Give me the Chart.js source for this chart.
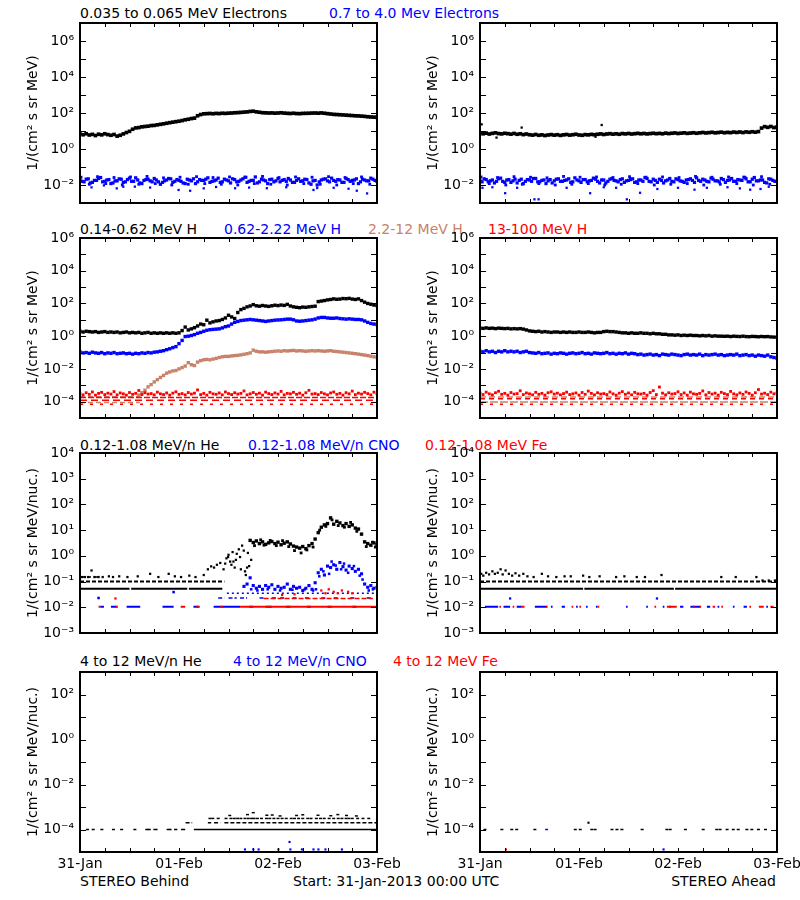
<!DOCTYPE html>
<html><head><meta charset="utf-8">
<script src="https://cdn.jsdelivr.net/npm/chart.js@4.4.1/dist/chart.umd.min.js"></script>
<style>
html,body{margin:0;padding:0;background:#fff;}
#wrap{position:relative;width:800px;height:900px;overflow:hidden;background:#fff;font-family:'DejaVu Sans',sans-serif;font-size:14px;}
canvas{position:absolute;}
.t{position:absolute;white-space:nowrap;line-height:16px;font-size:14px;}
</style></head><body><div id="wrap">
<div class="t" style="left:80px;top:5px;color:#000">0.035 to 0.065 MeV Electrons</div>
<div class="t" style="left:329px;top:5px;color:#0000ff">0.7 to 4.0 Mev Electrons</div>
<div class="t" style="left:80px;top:221px;color:#000">0.14-0.62 MeV H</div>
<div class="t" style="left:224px;top:221px;color:#0000ff">0.62-2.22 MeV H</div>
<div class="t" style="left:368px;top:221px;color:#c8826a">2.2-12 MeV H</div>
<div class="t" style="left:488px;top:221px;color:#ff0000">13-100 MeV H</div>
<div class="t" style="left:80px;top:437px;color:#000">0.12-1.08 MeV/n He</div>
<div class="t" style="left:248px;top:437px;color:#0000ff">0.12-1.08 MeV/n CNO</div>
<div class="t" style="left:425px;top:437px;color:#ff0000">0.12-1.08 MeV Fe</div>
<div class="t" style="left:80px;top:653px;color:#000">4 to 12 MeV/n He</div>
<div class="t" style="left:233px;top:653px;color:#0000ff">4 to 12 MeV/n CNO</div>
<div class="t" style="left:393px;top:653px;color:#ff0000">4 to 12 MeV Fe</div>
<div class="t" style="left:80px;top:873px;color:#000">STEREO Behind</div>
<div class="t" style="left:293px;top:873px;color:#000">Start: 31-Jan-2013 00:00 UTC</div>
<div class="t" style="right:24px;top:873px;color:#000">STEREO Ahead</div>
</div>
<script>
// ---------- axes / ticks ----------
const sixHourTicks = [0,6,12,18,24,30,36,42,48,54,60,66,72];
const dayTicks = [0,24,48,72];
const dayText = ['31-Jan','01-Feb','02-Feb','03-Feb'];

const decElec = [1e-3,1e-2,1e-1,1e0,1e1,1e2,1e3,1e4,1e5,1e6,1e7];
const labElecV = [1e-2,1e0,1e2,1e4,1e6];
const labElecT = ['10⁻²','10⁰','10²','10⁴','10⁶'];

const decProt = [1e-5,1e-4,1e-3,1e-2,1e-1,1e0,1e1,1e2,1e3,1e4,1e5,1e6];
const labProtV = [1e-4,1e-2,1e0,1e2,1e4,1e6];
const labProtT = ['10⁻⁴','10⁻²','10⁰','10²','10⁴','10⁶'];

const decSupra = [1e-3,1e-2,1e-1,1e0,1e1,1e2,1e3,1e4];
const labSupraV = [1e-3,1e-2,1e-1,1e0,1e1,1e2,1e3,1e4];
const labSupraT = ['10⁻³','10⁻²','10⁻¹','10⁰','10¹','10²','10³','10⁴'];

const decHigh = [1e-5,1e-4,1e-3,1e-2,1e-1,1e0,1e1,1e2,1e3];
const labHighV = [1e-4,1e-2,1e0,1e2];
const labHighT = ['10⁻⁴','10⁻²','10⁰','10²'];

// ---------- data (hours since 31-Jan 00:00) ----------
const STEP = 0.75;   // cadence of dense series
const NSTEP = 1;     // cadence of noisy electron layers
const WSTEP = 2;     // cadence of the outer noisy layer

// STEREO Behind electrons
const eLoB = [6.8,6.2,7.0,6.0,6.5,5.6,6.6,6.1,7.0,6.3,
5.8,6.4,5.2,5.8,6.9,8.2,9.6,12.5,14.8,15.5,
17.0,17.8,18.5,20.0,20.5,22,23.5,25,27,29,
31,33,35,38,42,45,49,52,70,82,
90,92,94,91,95,93,97,95,98,100,
103,105,108,112,115,122,126,116,110,104,
102,100,101,98,100,103,99,96,94,97,
93,92,95,96,97,99,100,98,101,97,
92,88,84,82,80,78,76,74,72,70,
69,67,65,62,60,59,57];
const eHiB1 = [.019,.015,.022,.014,.018,.026,.016,.020,.013,.017,
.021,.015,.024,.016,.019,.012,.020,.017,.023,.015,
.014,.019,.022,.016,.018,.013,.021,.017,.012,.020,
.018,.025,.016,.019,.014,.021,.017,.022,.015,.019,
.027,.016,.018,.013,.021,.017,.020,.015,.023,.018,
.016,.019,.014,.022,.017,.020,.011,.018,.015,.021,
.017,.024,.016,.019,.014,.020,.018,.022,.015,.019,
.017,.021,.016];
const eHiB2 = [.016,.021,.013,.018,.023,.015,.019,.012,.017,.022,
.014,.020,.016,.025,.013,.018,.021,.015,.019,.011,
.017,.023,.014,.020,.016,.012,.019,.022,.015,.018,
.021,.014,.017,.024,.015,.019,.013,.020,.016,.022,
.014,.018,.028,.015,.019,.012,.021,.017,.015,.020,
.023,.014,.018,.016,.021,.013,.017,.010,.019,.022,
.015,.018,.020,.014,.023,.016,.019,.012,.021,.017,
.024,.018];
const eHiB3 = [.027,.011,.029,.012,.026,.010,.028,.011,.030,.012,.025,.010,.027,.011,.029,.012,.026,.011,
.028,.010,.027,.012,.030,.011,.026,.010,.028,.012,.027,.011,.029,.010,.026,.012,.028,.011];
const eOutBt = [2.8,5.8,8.9,10.5,13.3,17,23.9,26.7,30,33,37.6,41,45.3,50,56.6,57.5,61.5,65.1,67.1,69.6];
const eOutBv = [.0074,.0095,.0065,.008,.0081,.0072,.0053,.0048,.0065,.0078,.0066,.0072,.0066,.0075,.0053,.0068,.007,.0062,.0048,.0034];

// STEREO Ahead electrons
const eLoA = [7.8,7.0,7.6,6.8,7.4,7.9,7.2,6.9,7.5,7.1,
6.7,7.3,6.6,7.0,6.3,6.8,6.2,5.9,6.4,5.8,
6.1,5.6,6.0,6.3,5.9,6.2,5.7,6.1,6.4,5.9,
6.2,6.6,6.0,5.8,6.3,6.1,6.5,6.2,6.6,6.9,
6.4,6.8,7.1,6.7,7.0,6.6,7.2,6.9,7.3,6.8,
7.1,7.4,7.0,7.3,6.9,7.2,7.5,7.1,7.4,7.0,
7.6,7.2,7.5,7.8,7.3,7.6,7.9,7.4,7.7,8.0,
7.5,7.9,8.3,7.8,8.1,8.5,7.9,8.2,8.6,8.0,
8.4,8.1,8.7,8.3,8.8,8.2,8.9,8.5,9.1,8.6,
9.3,14.5,17.5,16.0,17.8,15.5,16.5];
const eLoAOt = [0.4,4.0,10.1,28.0,29.5];
const eLoAOv = [23.5,4.3,15.5,4.8,21.5];
const eHiA1 = [.018,.022,.015,.019,.016,.024,.014,.020,.017,.013,
.021,.016,.019,.023,.015,.018,.012,.020,.017,.022,
.016,.019,.014,.025,.017,.020,.015,.018,.021,.013,
.019,.016,.023,.017,.020,.014,.018,.022,.015,.019,
.026,.016,.021,.014,.018,.017,.023,.015,.020,.016,
.019,.022,.014,.018,.021,.016,.024,.017,.015,.020,
.018,.023,.016,.019,.027,.015,.021,.017,.019,.014,
.022,.018,.016];
const eHiA2 = [.015,.020,.017,.013,.022,.016,.019,.014,.021,.018,
.012,.020,.016,.023,.015,.019,.017,.013,.021,.016,
.018,.022,.015,.019,.014,.020,.017,.024,.016,.019,
.013,.021,.018,.015,.022,.017,.020,.014,.019,.016,
.023,.015,.018,.021,.013,.019,.016,.022,.017,.014,
.020,.018,.025,.016,.019,.015,.021,.017,.023,.014,
.019,.016,.020,.018,.022,.015,.026,.017,.019,.013,
.021,.016];
const eHiA3 = [.028,.012,.026,.010,.029,.011,.027,.012,.025,.010,.030,.011,.027,.012,.028,.010,.026,.011,
.029,.012,.027,.010,.028,.011,.026,.012,.030,.010,.027,.011,.028,.012,.026,.010,.029,.011];
const eOutAt = [0.6,3,6.1,9,13.2,14.2,21,26.7,30,33,35.6,38.8,43,48,52,55,60,63,65.5,68,70];
const eOutAv = [.007,.0075,.0035,.007,.0016,.0016,.007,.0035,.0075,.007,.0016,.0037,.006,.007,.0055,.007,.0075,.0065,.0055,.006,.008];

// STEREO Behind protons
const pLoB = [2.0,1.8,2.0,1.9,1.8,1.9,1.7,1.8,1.9,1.7,
1.8,1.7,1.8,1.6,1.7,1.8,1.6,1.7,1.6,1.7,
1.5,1.6,1.7,1.5,1.6,1.5,1.6,1.5,1.6,1.5,
1.6,1.5,1.6,2.2,3.6,2.4,2.8,3.3,4.2,5.5,
5.0,9.5,6.5,7.5,8.5,9.0,10.5,13,19,15,
12,28,42,50,62,70,85,72,68,75,
70,66,72,78,74,80,76,88,70,62,
58,55,60,58,62,65,68,130,140,150,
165,175,190,180,185,200,195,205,185,175,
190,150,120,100,90,80,74];
const pMidB = [0.11,0.095,0.10,0.09,0.105,0.095,0.09,0.10,0.085,0.095,
0.09,0.10,0.085,0.09,0.095,0.085,0.09,0.08,0.09,0.085,
0.095,0.09,0.10,0.095,0.105,0.11,0.12,0.13,0.15,0.17,
0.20,0.23,0.35,0.55,0.95,1.0,1.1,1.25,1.5,1.7,
2.0,2.3,2.5,2.6,2.7,2.8,3.2,3.8,4.2,5.5,
7.0,8.0,9.0,9.5,10,10.5,10,9.5,9.0,8.5,
8.0,8.5,9.0,9.5,9.8,10,10.5,11,11,10,
8.5,8.2,8.5,9.0,9.5,10,11,13,14,14,
13,12.5,12.5,13,12,11.5,11,11.5,11,10.5,
10.5,10,8.5,7.0,6.0,5.5,5.2];
const tanBStart = 14.25;
const tanB = [2.5e-4,3.5e-4,5e-4,8e-4,1.1e-3,1.6e-3,2.2e-3,3e-3,4e-3,5.5e-3,
6.5e-3,7.5e-3,8e-3,1.0e-2,1.2e-2,1.5e-2,2.4e-2,1.8e-2,1.6e-2,2.6e-2,
3.2e-2,3.6e-2,3.8e-2,3.6e-2,4.0e-2,4.4e-2,5.0e-2,5.5e-2,5.8e-2,5.8e-2,
6.2e-2,6.5e-2,6.8e-2,7.2e-2,7.8e-2,8.5e-2,9.5e-2,0.14,0.12,0.11,
0.11,0.105,0.11,0.115,0.12,0.125,0.12,0.13,0.125,0.13,
0.135,0.125,0.13,0.125,0.12,0.125,0.13,0.125,0.13,0.125,
0.12,0.125,0.13,0.12,0.115,0.11,0.105,0.10,0.095,0.09,
0.085,0.08,0.075,0.07,0.065,0.06,0.055,0.05];
const tanBLowLevels = [2.0e-4, 9e-5];
const tanBLowSpan = [[0,14.5]];
const redB = [3.1e-4,2.6e-4,3.5e-4,2.8e-4,3.9e-4,2.5e-4,3.2e-4,3.7e-4,2.7e-4,3.3e-4,
2.9e-4,4.1e-4,2.6e-4,3.4e-4,3.0e-4,2.5e-4,3.6e-4,2.8e-4,3.2e-4,4.8e-4,
2.7e-4,3.5e-4,2.9e-4,3.1e-4,2.6e-4,3.8e-4,3.0e-4,2.7e-4,3.4e-4,2.5e-4,
3.3e-4,4.0e-4,2.8e-4,3.1e-4,2.6e-4,3.6e-4,2.9e-4,3.3e-4,5.2e-4,2.7e-4,
3.2e-4,2.5e-4,3.7e-4,3.0e-4,2.8e-4,3.4e-4,2.6e-4,3.9e-4,3.1e-4,2.7e-4,
3.5e-4,2.9e-4,3.2e-4,4.5e-4,2.6e-4,3.0e-4,3.6e-4,2.8e-4,3.3e-4,2.5e-4,
3.8e-4,3.1e-4,2.7e-4,3.4e-4,2.9e-4,4.2e-4,2.6e-4,3.2e-4,3.0e-4,3.7e-4,
2.8e-4,3.3e-4,2.5e-4,3.5e-4,4.9e-4,2.9e-4,3.1e-4,2.7e-4,3.6e-4,3.0e-4,
2.6e-4,3.4e-4,3.9e-4,2.8e-4,3.2e-4,2.5e-4,3.5e-4,3.0e-4,4.4e-4,2.7e-4,
3.3e-4,2.9e-4,3.7e-4,3.1e-4,2.6e-4,3.8e-4,3.0e-4];
const redBLevels = [1.8e-4, 1.2e-4, 7e-5];

// STEREO Ahead protons
const pLoA = [3.1,3.0,3.2,3.0,3.1,2.9,3.1,3.0,2.9,3.0,
2.8,2.9,2.8,2.9,2.7,2.4,2.1,2.0,1.9,2.0,
1.8,1.9,1.8,1.7,1.8,1.8,1.7,1.8,1.7,1.8,
1.7,1.7,1.8,1.7,1.7,1.8,1.7,1.6,1.7,1.7,
1.9,2.0,1.9,1.9,1.8,1.7,1.6,1.6,1.5,1.6,
1.5,1.5,1.6,1.5,1.5,1.4,1.5,1.4,1.4,1.3,
1.3,1.2,1.2,1.15,1.2,1.1,1.15,1.1,1.15,1.1,
1.1,1.05,1.1,1.05,1.1,1.0,1.05,1.0,1.0,0.98,
1.0,0.95,1.0,0.97,0.95,1.0,0.95,0.93,0.97,0.95,
0.92,0.96,0.93,0.95,0.9,0.88,0.85];
const pMidA = [0.12,0.11,0.13,0.11,0.12,0.10,0.12,0.11,0.13,0.11,
0.12,0.11,0.12,0.10,0.11,0.12,0.10,0.095,0.09,0.10,
0.085,0.09,0.095,0.08,0.09,0.085,0.095,0.09,0.08,0.09,
0.095,0.085,0.09,0.10,0.085,0.09,0.08,0.095,0.09,0.085,
0.09,0.10,0.085,0.09,0.08,0.09,0.085,0.095,0.08,0.09,
0.085,0.075,0.08,0.07,0.075,0.08,0.07,0.075,0.065,0.08,
0.075,0.07,0.08,0.075,0.07,0.065,0.075,0.08,0.07,0.075,
0.07,0.08,0.065,0.075,0.07,0.075,0.08,0.07,0.075,0.065,
0.07,0.075,0.07,0.08,0.065,0.07,0.075,0.065,0.07,0.06,
0.07,0.065,0.06,0.07,0.055,0.05,0.045];
const redA = [3.3e-4,2.7e-4,3.8e-4,3.0e-4,2.6e-4,3.5e-4,4.3e-4,2.8e-4,3.2e-4,2.5e-4,
3.6e-4,2.9e-4,3.1e-4,4.6e-4,2.7e-4,3.4e-4,3.0e-4,2.6e-4,3.7e-4,2.8e-4,
3.2e-4,2.5e-4,3.5e-4,4.0e-4,2.9e-4,3.3e-4,2.6e-4,3.1e-4,3.8e-4,2.7e-4,
3.0e-4,3.4e-4,2.5e-4,3.6e-4,2.8e-4,4.4e-4,3.2e-4,2.6e-4,3.5e-4,2.9e-4,
3.1e-4,2.7e-4,3.9e-4,3.0e-4,2.5e-4,3.3e-4,4.1e-4,2.8e-4,3.4e-4,2.6e-4,
3.7e-4,3.0e-4,2.9e-4,3.2e-4,2.5e-4,3.6e-4,4.7e-4,2.7e-4,7.8e-4,3.3e-4,
2.6e-4,3.5e-4,2.9e-4,3.1e-4,4.0e-4,2.7e-4,3.4e-4,2.5e-4,3.8e-4,3.0e-4,
2.8e-4,3.2e-4,4.5e-4,2.6e-4,3.6e-4,2.9e-4,3.3e-4,2.5e-4,3.7e-4,3.1e-4,
2.7e-4,4.2e-4,3.0e-4,2.6e-4,3.4e-4,2.8e-4,3.9e-4,3.2e-4,2.5e-4,3.5e-4,
5.5e-4,2.9e-4,3.3e-4,2.7e-4,3.8e-4,3.0e-4,3.4e-4];
const redALevels = [1.5e-4, 7e-5];
const tanALevels = [1.9e-4, 9.5e-5];

// STEREO Behind suprathermal He / CNO / Fe
const heB05Segs = [[0,12],[12.4,26],[26.4,34.5]];
const heB10Segs = [[0,35]];
const heB15Segs = [[0,4.8]];
const heBSpT = [0.5,1.2,2,2.8,3.5,4.5,5.5,7,8,9.5,11.5,14,17,19,21.5,23,24.5,26.5,28,30,31,31.8,32.5,33.2,34,34.8,35.5,36,36.4,37,37.5,37.8,38.5,38.8,39.3,40,40.2,40.7,41,41.5,35.2,35.9,36.7,37.2,38,39,39.7,40.5];
const heBSpV = [0.15,0.15,0.15,0.27,0.15,0.15,0.15,0.16,0.15,0.16,0.15,0.16,0.2,0.15,0.2,0.16,0.15,0.17,0.15,0.18,0.3,0.39,0.35,0.45,0.53,0.3,0.8,1.1,0.6,1.4,0.35,0.7,1.8,0.9,2.5,0.25,0.18,1.3,0.4,0.7,0.5,0.9,0.45,0.6,1.2,0.3,1.6,0.35];
const heBMainStart = 41.25;
const heBMain = [4.0,3.3,3.8,3.0,3.5,2.8,3.2,3.6,3.0,3.4,
2.7,3.1,3.5,2.9,2.4,2.2,2.0,2.3,1.9,2.5,
3.0,4.5,8,13,16,18,30,17,22,19,
15,18,14,16,12,11,7,3.5,3.0,2.6,
3.2,2.8];
const heBXT = [42.3,43.8,44.6,46.1,47.6,49.1,50.6,52,53.6,55,56.5,58.1,59.6,61.1,62.6,64.1,65.6,67.1,69.4,70.9,71.6];
const heBXV = [2.5,4.2,2.6,4.0,2.5,3.9,2.3,1.6,1.3,1.7,2.2,10,14,25,15,13,20,9,2.3,3.4,2.2];
const cnoBStart = 39.75;
const cnoB = [0.065,0.08,0.14,0.07,0.055,0.065,0.05,0.07,0.06,0.075,
0.05,0.065,0.055,0.06,0.08,0.05,0.065,0.055,0.06,0.045,
0.055,0.07,0.05,0.09,0.22,0.3,0.18,0.4,0.35,0.45,
0.3,0.55,0.38,0.28,0.4,0.32,0.25,0.3,0.2,0.08,
0.06,0.07,0.055,0.06];
const cnoBXT = [58,59,60.4,61,62,63.3,64,65,66.4,67.8,68.5,41.5,43,45.5,48.5,51.5,54.5,56.5,57.2,70,71,4.5,22.7];
const cnoBXV = [0.16,0.25,0.2,0.6,0.42,0.3,0.5,0.22,0.4,0.17,0.12,0.05,0.045,0.05,0.045,0.048,0.05,0.045,0.05,0.045,0.05,0.023,0.039];
const cnoB01Segs = [[4.9,5.8],[7.5,8.9],[11.3,14.6],[20,22.7],[27.5,29],[32.4,38.8],[41,42],[45,46.5],[50,51],[55,56],[60,61],[66,67]];
const cnoB02Segs = [[33.5,35],[36,38],[38.8,40.5]];
const cnoB02T = [44,47,49,52,55,59,62,66,70];
const cnoB03Segs = [[35.6,72]];
const feB01Segs = [[4.5,4.9],[8.5,9.2],[24.4,25.5],[28.2,28.8],[34,34.6],[38.8,72]];
const feB02Segs = [[44.5,71]];
const feBXT = [8.6,49,52,58.5,59.5,60.3,61.5,62.5,63.5,65,66];
const feBXV = [0.022,0.03,0.032,0.045,0.035,0.05,0.04,0.035,0.045,0.04,0.035];

// STEREO Ahead suprathermal He / CNO / Fe
const heA05Segs = [[0,25],[25.3,47],[47.3,72]];
const heA10Segs = [[0,72]];
const heASpT = [0.3,0.8,1.5,2.2,3,3.6,4.3,5,5.5,6.2,7,7.8,8.6,9.5,10.5,11.5,13,15,16.5,18.5,20.5,22,25,26.5,29,33,35,38,40,44,58.5,62,67,68.5,70,71.5];
const heASpV = [0.2,0.17,0.22,0.19,0.25,0.2,0.22,0.3,0.19,0.27,0.2,0.17,0.21,0.17,0.2,0.16,0.15,0.2,0.16,0.15,0.16,0.16,0.17,0.15,0.16,0.15,0.16,0.15,0.15,0.18,0.15,0.15,0.15,0.11,0.11,0.11];
const cnoA01Segs = [[1.2,4.4],[5.7,7.3],[8.9,10.1],[13.3,16.2],[17.2,17.6],[19.8,20.6],[23.3,23.7],[25.7,26.1],[28.1,28.5],[35.4,35.8],[40.3,40.7],[44.3,44.7],[45.9,46.3],[48.5,49.3],[51,53.4],[55,55.8],[57.6,58],[61.3,61.7],[63.9,64.7],[69.4,69.8]];
const cnoA02T = [7.3,42.9];
const feA01Segs = [[4.7,5.1],[7.9,8.3],[10,10.8],[16,16.4],[22.2,22.6],[24.1,24.5],[28.5,28.9],[42.3,42.7],[45.3,47.7],[51.6,52],[53.2,53.6],[56.4,57],[58.5,58.9],[65.3,65.7],[67.6,68.8],[70.4,71.2]];

// STEREO Behind 4-12 MeV/n
const hiB1eT = [1.8,3.2,5.3,8.1,10.1,13.3,16.2,16.8];
const hiB1eSegs = [[17.8,18.8],[21,22.2],[22.8,23.6],[24.5,25.5],[27.6,72]];
const hiB2eSegs = [[25.6,27.2],[31,31.8],[32.5,34],[35,72]];
const hiB3eT = [31.5,32.2,33.5,35.4,36.6,37.4,38.2,39,40,40.8,41.6,42.2,43,44,45.2,46,47,48,49,50,51.2,52,53,54,55.2,56,57.3,58.3,59.2,60.4,61.5,62.6,63.5,64.5,65.2,66,67.3,68.6,70];
const hiB5T = [36.3,40.6,42,45.3,46.6,48.5,52.5,54,57.7,60.8,62.5,64.6,67];
const hiB5V = [4.2e-4,4.6e-4,5.6e-4,4.3e-4,4.4e-4,4e-4,4.2e-4,4.5e-4,4.3e-4,4.1e-4,4.6e-4,4.2e-4,4e-4];
const hiBBlueT = [40,42,43.3,48.1,50.8,51,53.8,56.6,57.8,59.5,63.5];
const hiBBlueV = [1.3e-5,1.3e-5,1.3e-5,1.3e-5,2.8e-5,1.3e-5,1.3e-5,1.3e-5,1.3e-5,1.3e-5,1.3e-5];

// STEREO Ahead 4-12 MeV/n
const hiA1eT = [1.2,5.3,7.7,8.9,13.3,23.1,24.3,27.1,27.9,32,33.2,34.4,39.3,45.3,46.1,49.8,54.1,57.4,58.2,59.9,61.4,62.6,64.7,65.9,67.5,69.2];
const hiA2eT = [26.3];
const hiABlueSegs = [[15.8,16.5]];
const hiABlueLowT = [44.5];
const hiAFeLowT = [6.3];

// ---------- helpers ----------
const BLACK='#000000', BLUE='#0000ff', TAN='#c8826a', RED='#ff0000';
const seq = (vals, t0, step) => vals.map((v,i)=>({x:t0+i*step, y:v}));
const pairs = (ts, vs) => ts.map((t,i)=>({x:t, y:vs[i]}));
const level = (ts, lvl) => ts.map(t=>({x:t, y:lvl}));
const segs = (ss, lvl) => { const o=[]; ss.forEach(([a,b])=>{o.push({x:a,y:lvl},{x:b,y:lvl},{x:b,y:null});}); return o; };

function P(data, color, r, order, style){
  const isLine = style === 'line';
  return {data, showLine:false, pointStyle: style||'rect', pointRadius:r,
    pointBackgroundColor:color, pointBorderColor:color, pointBorderWidth: isLine?1.5:0, order};
}
function L(data, color, w, dash, order){
  return {data, showLine:true, pointRadius:0, borderColor:color, backgroundColor:color,
    borderWidth:w, borderDash:dash||[], spanGaps:false, fill:false, order};
}

const framePlugin = {
  id:'frame',
  afterDatasetsDraw(chart){
    const {ctx, chartArea:a} = chart;
    const xs = chart.scales.x, ys = chart.scales.y;
    ctx.save();
    ctx.strokeStyle = '#000';
    ctx.lineWidth = 1;
    ctx.beginPath();
    ys.ticks.forEach(t=>{
      const p = Math.round(ys.getPixelForValue(t.value)) + 0.5;
      if (p < a.top + 2 || p > a.bottom - 2) return;
      ctx.moveTo(a.left, p); ctx.lineTo(a.left + 6, p);
      ctx.moveTo(a.right, p); ctx.lineTo(a.right - 6, p);
    });
    xs.ticks.forEach(t=>{
      const p = Math.round(xs.getPixelForValue(t.value)) + 0.5;
      ctx.moveTo(p, a.bottom); ctx.lineTo(p, a.bottom - 4);
      ctx.moveTo(p, a.top); ctx.lineTo(p, a.top + 4);
    });
    ctx.stroke();
    ctx.lineWidth = 2;
    ctx.strokeRect(a.left, a.top, a.right - a.left, a.bottom - a.top);
    ctx.restore();
  }
};

Chart.defaults.font.family = "'DejaVu Sans', sans-serif";
Chart.defaults.font.size = 14;
Chart.defaults.color = '#000';

function makePanel(p){
  const c = document.createElement('canvas');
  c.width = 400; c.height = p.h;
  c.style.left = p.left + 'px'; c.style.top = p.top + 'px';
  c.style.width = '400px'; c.style.height = p.h + 'px';
  document.getElementById('wrap').appendChild(c);
  const lab = v => { for (let k=0;k<p.labV.length;k++){ if (Math.abs(Math.log10(v)-Math.log10(p.labV[k]))<1e-6) return p.labT[k]; } return ''; };
  new Chart(c, {
    type:'scatter',
    data:{datasets:p.ds},
    plugins:[framePlugin],
    options:{
      responsive:false, animation:false, events:[], devicePixelRatio:1,
      layout:{padding:{top:p.pad, right:23, left:0, bottom:0}},
      plugins:{legend:{display:false}, tooltip:{enabled:false}, title:{display:false}},
      scales:{
        x:{type:'linear', min:0, max:72,
          afterBuildTicks: s => { s.ticks = sixHourTicks.map(v=>({value:v})); },
          ticks:{display:p.xLab, autoSkip:false, maxRotation:0, minRotation:0, padding:4, color:'#000',
            callback: v => { const k = dayTicks.indexOf(v); return k>=0 ? dayText[k] : ''; }},
          grid:{display:false, drawTicks:false}, border:{display:false},
          afterFit: s => { s.height = p.h - p.pad - 180; s.paddingLeft = 0; s.paddingRight = 0; }
        },
        y:{type:'logarithmic', min:p.yMin, max:p.yMax,
          afterBuildTicks: s => { s.ticks = p.dec.map(v=>({value:v})); },
          ticks:{autoSkip:false, padding:6, color:'#000', callback: v => lab(v)},
          grid:{display:false, drawTicks:false}, border:{display:false},
          title:{display:true, text:p.yTitle, color:'#000', padding:{top:25, bottom:0}},
          afterFit: s => { s.width = 80; s.paddingTop = 0; s.paddingBottom = 0; }
        }
      }
    }
  });
}

const T1 = '1/(cm² s sr MeV)';
const T2 = '1/(cm² s sr MeV/nuc.)';

const panels = [
  {left:0, top:0, h:215, pad:23, yMin:1e-3, yMax:1e7, dec:decElec, labV:labElecV, labT:labElecT, yTitle:T1, xLab:false, ds:[
    P(seq(eLoB,0,STEP), BLACK, 2.6, 2),
    P(seq(eHiB1,0,NSTEP), BLUE, 2.3, 1),
    P(seq(eHiB2,0.5,NSTEP), BLUE, 2.3, 1),
    P(seq(eHiB3,0.25,WSTEP), BLUE, 2, 1),
    P(pairs(eOutBt,eOutBv), BLUE, 1.6, 1)
  ]},
  {left:400, top:0, h:215, pad:23, yMin:1e-3, yMax:1e7, dec:decElec, labV:labElecV, labT:labElecT, yTitle:T1, xLab:false, ds:[
    P(seq(eLoA,0,STEP), BLACK, 2.6, 2),
    P(pairs(eLoAOt,eLoAOv), BLACK, 1.6, 2),
    P(seq(eHiA1,0,NSTEP), BLUE, 2.3, 1),
    P(seq(eHiA2,0.5,NSTEP), BLUE, 2.3, 1),
    P(seq(eHiA3,0.25,WSTEP), BLUE, 2, 1),
    P(pairs(eOutAt,eOutAv), BLUE, 1.6, 1)
  ]},
  {left:0, top:215, h:215, pad:23, yMin:1e-5, yMax:1e6, dec:decProt, labV:labProtV, labT:labProtT, yTitle:T1, xLab:false, ds:[
    P(seq(pLoB,0,STEP), BLACK, 2.4, 4),
    P(seq(pMidB,0,STEP), BLUE, 2.4, 3),
    P(seq(tanB,tanBStart,STEP), TAN, 2.4, 2),
    ...tanBLowLevels.map(l => L(segs(tanBLowSpan,l), TAN, 1.5, [5,3], 2)),
    P(seq(redB,0,STEP), RED, 2, 1),
    L(segs([[0,72]],redBLevels[0]), RED, 1.5, [6,2], 1),
    L(segs([[0,72]],redBLevels[1]), RED, 1.5, [7,4], 1),
    L(segs([[0,72]],redBLevels[2]), RED, 1.5, [3,7], 1)
  ]},
  {left:400, top:215, h:215, pad:23, yMin:1e-5, yMax:1e6, dec:decProt, labV:labProtV, labT:labProtT, yTitle:T1, xLab:false, ds:[
    P(seq(pLoA,0,STEP), BLACK, 2.4, 4),
    P(seq(pMidA,0,STEP), BLUE, 2.4, 3),
    L(segs([[0,72]],tanALevels[0]), TAN, 1.5, [6,3], 2),
    L(segs([[0,72]],tanALevels[1]), TAN, 1.5, [8,2], 2),
    P(seq(redA,0,STEP), RED, 2, 1),
    L(segs([[0,72]],redALevels[0]), RED, 1.5, [5,4], 1),
    L(segs([[0,72]],redALevels[1]), RED, 1.5, [3,7], 1)
  ]},
  {left:0, top:430, h:215, pad:23, yMin:1e-3, yMax:1e4, dec:decSupra, labV:labSupraV, labT:labSupraT, yTitle:T2, xLab:false, ds:[
    L(segs(heB05Segs,0.052), BLACK, 2, [], 3),
    L(segs(heB10Segs,0.1), BLACK, 2, [4,2], 3),
    L(segs(heB15Segs,0.15), BLACK, 1.5, [4,3], 3),
    P(pairs(heBSpT,heBSpV), BLACK, 1.6, 3),
    P(seq(heBMain,heBMainStart,STEP), BLACK, 2.4, 3),
    P(pairs(heBXT,heBXV), BLACK, 2, 3),
    P(seq(cnoB,cnoBStart,STEP), BLUE, 2.2, 2),
    P(pairs(cnoBXT,cnoBXV), BLUE, 1.8, 2),
    L(segs(cnoB01Segs,0.0105), BLUE, 2, [], 2),
    L(segs(cnoB02Segs,0.023), BLUE, 1.5, [4,2], 2),
    P(level(cnoB02T,0.023), BLUE, 2, 2, 'line'),
    L(segs(cnoB03Segs,0.035), BLUE, 1.5, [2,3], 2),
    L(segs(feB01Segs,0.0105), RED, 2, [], 1),
    L(segs(feB02Segs,0.022), RED, 1.5, [5,2], 1),
    P(pairs(feBXT,feBXV), RED, 1.6, 1)
  ]},
  {left:400, top:430, h:215, pad:23, yMin:1e-3, yMax:1e4, dec:decSupra, labV:labSupraV, labT:labSupraT, yTitle:T2, xLab:false, ds:[
    L(segs(heA05Segs,0.052), BLACK, 2, [], 3),
    L(segs(heA10Segs,0.1), BLACK, 2, [4,2], 3),
    P(pairs(heASpT,heASpV), BLACK, 1.6, 3),
    L(segs(cnoA01Segs,0.0105), BLUE, 2, [], 2),
    P(level(cnoA02T,0.022), BLUE, 1.6, 2),
    L(segs(feA01Segs,0.0105), RED, 2, [], 1)
  ]},
  {left:0, top:645, h:255, pad:27, yMin:1e-5, yMax:1e3, dec:decHigh, labV:labHighV, labT:labHighT, yTitle:T2, xLab:true, ds:[
    P(level(hiB1eT,1e-4), BLACK, 1.5, 3, 'line'),
    L(segs(hiB1eSegs,1e-4), BLACK, 1.5, [], 3),
    L(segs(hiB2eSegs,2e-4), BLACK, 1.5, [4,2], 3),
    P(level(hiB3eT,3.1e-4), BLACK, 1.5, 3, 'line'),
    P(pairs(hiB5T,hiB5V), BLACK, 1.5, 3, 'line'),
    P(pairs(hiBBlueT,hiBBlueV), BLUE, 1.5, 2)
  ]},
  {left:400, top:645, h:255, pad:27, yMin:1e-5, yMax:1e3, dec:decHigh, labV:labHighV, labT:labHighT, yTitle:T2, xLab:true, ds:[
    P(level(hiA1eT,1e-4), BLACK, 1.5, 3, 'line'),
    P(level(hiA2eT,2e-4), BLACK, 1.5, 3),
    L(segs(hiABlueSegs,1e-4), BLUE, 1.5, [], 2),
    P(level(hiABlueLowT,1.3e-5), BLUE, 1.5, 2),
    P(level(hiAFeLowT,1.3e-5), RED, 1.5, 1)
  ]}
];
panels.forEach(makePanel);
</script></body></html>
